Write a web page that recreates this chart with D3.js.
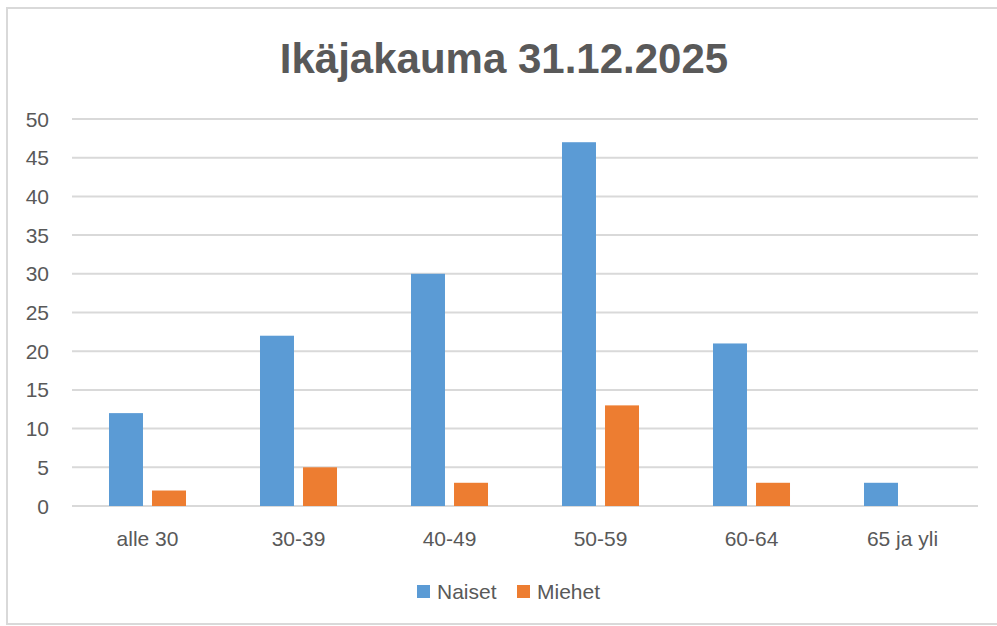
<!DOCTYPE html>
<html>
<head>
<meta charset="utf-8">
<script src="https://cdn.jsdelivr.net/npm/d3@7"></script>
<style>
  body { margin: 0; background: #fff; }
  text { font-family: "Liberation Sans", Arial, sans-serif; fill: #595959; }
</style>
</head>
<body>
<script>
// data
var categories = ['alle 30', '30-39', '40-49', '50-59', '60-64', '65 ja yli'];
var naiset = [12, 22, 30, 47, 21, 3];
var miehet = [2, 5, 3, 13, 3, 0];
var seriesNames = ['Naiset', 'Miehet'];
var yTicks = [0, 5, 10, 15, 20, 25, 30, 35, 40, 45, 50];

var colors = { Naiset: '#5B9BD5', Miehet: '#ED7D31' };

var svg = d3
  .select('body')
  .append('svg')
  .attr('width', 997)
  .attr('height', 626);

// chart frame
svg
  .append('rect')
  .attr('x', 7)
  .attr('y', 8)
  .attr('width', 1000)
  .attr('height', 616)
  .attr('fill', '#fff')
  .attr('stroke', '#D9D9D9')
  .attr('stroke-width', 2);

var x = d3.scaleBand().domain(categories).range([72, 978]);
var xSub = d3
  .scaleBand()
  .domain(seriesNames)
  .range([x.bandwidth() * 0.245, x.bandwidth() * 0.755])
  .paddingInner(0.21);
var y = d3.scaleLinear().domain([0, 50]).range([506, 119]);

// gridlines
svg
  .selectAll('.grid')
  .data(yTicks)
  .enter()
  .append('line')
  .attr('class', 'grid')
  .attr('x1', 72)
  .attr('x2', 978)
  .attr('y1', function (d) { return y(d); })
  .attr('y2', function (d) { return y(d); })
  .attr('stroke', '#D9D9D9')
  .attr('stroke-width', 2);

// y labels
svg
  .selectAll('.ylab')
  .data(yTicks)
  .enter()
  .append('text')
  .attr('class', 'ylab')
  .attr('x', 49)
  .attr('y', function (d) { return y(d); })
  .attr('dy', '0.36em')
  .attr('text-anchor', 'end')
  .style('font-size', '21px')
  .text(function (d) { return d; });

// bars
var rows = categories.map(function (c, i) {
  return { cat: c, Naiset: naiset[i], Miehet: miehet[i] };
});
var groups = svg
  .selectAll('.grp')
  .data(rows)
  .enter()
  .append('g')
  .attr('transform', function (d) { return 'translate(' + x(d.cat) + ',0)'; });
groups
  .selectAll('rect')
  .data(function (d) {
    return seriesNames.map(function (s) { return { key: s, value: d[s] }; });
  })
  .enter()
  .append('rect')
  .attr('x', function (d) { return xSub(d.key); })
  .attr('width', xSub.bandwidth())
  .attr('y', function (d) { return y(d.value); })
  .attr('height', function (d) { return y(0) - y(d.value); })
  .attr('fill', function (d) { return colors[d.key]; });

// x labels
svg
  .selectAll('.xlab')
  .data(categories)
  .enter()
  .append('text')
  .attr('class', 'xlab')
  .attr('x', function (d) { return x(d) + x.bandwidth() / 2; })
  .attr('y', 546)
  .attr('text-anchor', 'middle')
  .style('font-size', '21px')
  .text(function (d) { return d; });

// title
svg
  .append('text')
  .attr('x', 504)
  .attr('y', 73)
  .attr('text-anchor', 'middle')
  .style('font-size', '42px')
  .style('font-weight', 'bold')
  .text('Ikäjakauma 31.12.2025');

// legend
var legendX = [417, 517];
seriesNames.forEach(function (s, i) {
  svg
    .append('rect')
    .attr('x', legendX[i])
    .attr('y', 585)
    .attr('width', 13)
    .attr('height', 13)
    .attr('fill', colors[s]);
  svg
    .append('text')
    .attr('x', legendX[i] + 20)
    .attr('y', 599)
    .style('font-size', '21px')
    .text(s);
});
</script>
</body>
</html>
